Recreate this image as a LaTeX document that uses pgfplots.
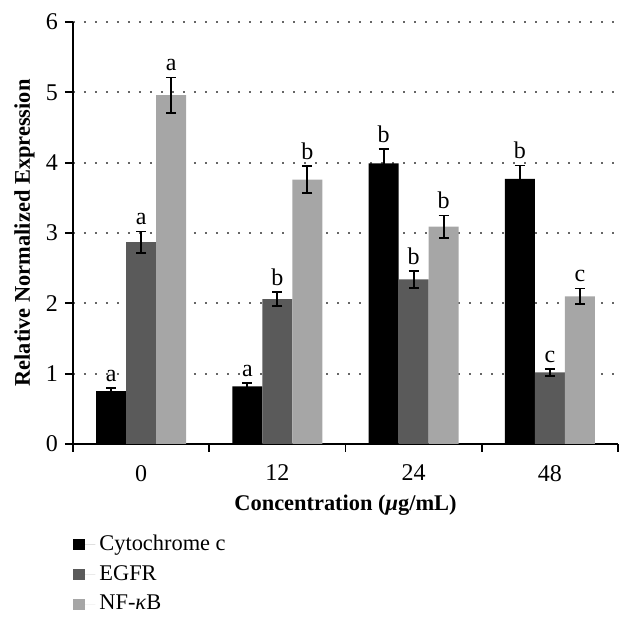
\documentclass[border=0pt]{standalone}
\usepackage{fontspec}
\setmainfont{Liberation Serif}
\usepackage{pgfplots}
\pgfplotsset{compat=1.18}
\usepackage{pgfplotstable}
\definecolor{cyto}{HTML}{000000}
\definecolor{egfr}{HTML}{5A5A5A}
\definecolor{nfkb}{HTML}{A6A6A6}

\pgfplotstableread{
x y err lab
0 0.75 0.05 a
1 0.82 0.05 a
2 3.99 0.20 b
3 3.77 0.19 b
}\cytotab
\pgfplotstableread{
x y err lab
0 2.87 0.15 a
1 2.06 0.10 b
2 2.34 0.12 b
3 1.02 0.05 c
}\egfrtab
\pgfplotstableread{
x y err lab
0 4.96 0.25 a
1 3.76 0.19 b
2 3.09 0.16 b
3 2.10 0.11 c
}\nfkbtab

\begin{document}
\begin{tikzpicture}
\begin{axis}[
  at={(0,0)}, anchor=south west,
  scale only axis, width=272.5pt, height=211pt,
  ybar=0pt, bar width=15pt,
  xmin=-0.5, xmax=3.5, ymin=0, ymax=6,
  axis x line*=bottom, axis y line*=left,
  axis line style={-, line width=0.9pt},
  xtick={0,1,2,3}, xticklabels={0,12,24,48},
  minor xtick={-0.5,0.5,1.5,2.5,3.5},
  major x tick style={draw=none},
  ytick={0,1,...,6},
  tick align=outside,
  major tick length=4pt, minor tick length=4pt,
  tick style={black, line width=0.9pt},
  ymajorgrids,
  grid style={black!60, line width=0.9pt, dash pattern=on 0.9pt off 4.6pt},
  /pgf/number format/assume math mode=true,
  ticklabel style={font=\fontsize{12}{14}\selectfont},
  xticklabel style={yshift=-3pt},
  xlabel={\textbf{Concentration (\textit{μ}g/mL)}},
  ylabel={\textbf{Relative Normalized Expression}},
  label style={font=\fontsize{11.2}{13}\selectfont},
  xlabel style={at={(axis description cs:0.5,-0.145)}, anchor=center},
  ylabel style={at={(axis description cs:-0.089,0.5)}, anchor=center, rotate=0},
  nodes near coords,
  point meta=explicit symbolic,
  visualization depends on={\thisrow{err}\as\errval},
  every node near coord/.append style={font=\fontsize{12}{14}\selectfont, black,
     shift={(axis direction cs:0,\errval)}, inner sep=3pt},
  legend style={at={(axis description cs:0,-0.205)}, anchor=north west,
     draw=none, fill=none, font=\fontsize{11.2}{13}\selectfont,
     row sep=2pt, inner sep=0pt, cells={anchor=west}},
  legend image code/.code={\fill[#1] (0pt,-2.8pt) rectangle (5.8pt,2.8pt);
     \path (0pt,0pt) -- (11pt,0pt);},
  error bars/y dir=both, error bars/y explicit,
  error bars/error bar style={black, line width=0.9pt},
  error bars/error mark options={black, line width=0.9pt, mark size=2.5pt, rotate=90},
]
\addplot[fill=cyto, draw=none] table[x=x, y=y, y error=err, meta=lab]{\cytotab};
\addplot[fill=egfr, draw=none] table[x=x, y=y, y error=err, meta=lab]{\egfrtab};
\addplot[fill=nfkb, draw=none] table[x=x, y=y, y error=err, meta=lab]{\nfkbtab};
\legend{Cytochrome c, EGFR, NF-\textit{κ}B}
\end{axis}
\pgfresetboundingbox
\path[use as bounding box] (-36.5pt,-88pt) rectangle (279.5pt,222pt);
\end{tikzpicture}
\end{document}
